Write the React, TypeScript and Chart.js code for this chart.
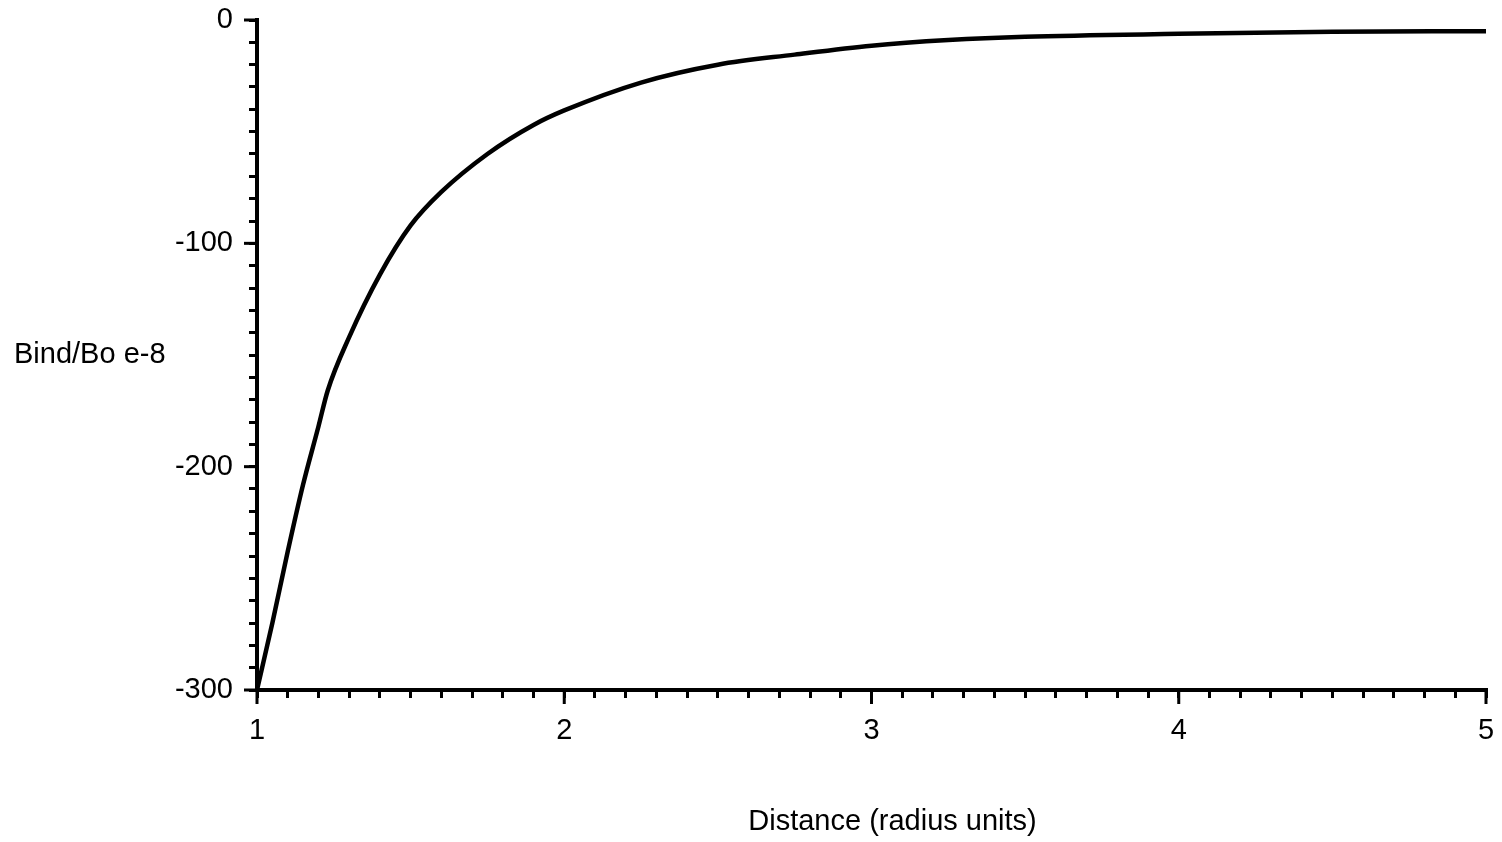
import React, { useEffect, useRef } from "react";
import { Chart, registerables } from "chart.js";

Chart.register(...registerables);

const distance = [1.0, 1.05, 1.1, 1.15, 1.2, 1.23, 1.3, 1.4, 1.5, 1.6, 1.75, 1.9, 2.0, 2.25, 2.5, 2.75, 3.0, 3.25, 3.5, 4.0, 4.5, 5.0];
const bind = [-300, -270, -238, -208, -182, -166, -142, -114, -92, -77, -60, -47, -40.5, -28, -20, -15.5, -11.5, -9, -7.5, -6.2, -5.3, -5.0];

const xMajorTicks = [1, 2, 3, 4, 5];
const yMajorTicks = [-300, -200, -100, 0];

const xTitle = "Distance (radius units)";
const yTitle = "Bind/Bo e-8";

const FONT = "'Liberation Sans', Arial, Helvetica, sans-serif";
const FONT_SIZE = 29;

const decorPlugin = {
  id: "decor",
  afterDraw(chart: any) {
    const { ctx, chartArea, scales } = chart;
    const xs = scales.x;
    const ys = scales.y;
    ctx.save();
    ctx.strokeStyle = "#000";
    ctx.lineWidth = 3;
    xMajorTicks.forEach((v) => {
      const px = xs.getPixelForValue(v);
      ctx.beginPath();
      ctx.moveTo(px, chartArea.bottom);
      ctx.lineTo(px, chartArea.bottom + 14);
      ctx.stroke();
    });
    yMajorTicks.forEach((v) => {
      const py = ys.getPixelForValue(v);
      ctx.beginPath();
      ctx.moveTo(chartArea.left, py);
      ctx.lineTo(chartArea.left - 13, py);
      ctx.stroke();
    });
    ctx.fillStyle = "#000";
    ctx.font = `${FONT_SIZE}px ${FONT}`;
    ctx.textBaseline = "middle";
    ctx.textAlign = "left";
    ctx.fillText(yTitle, 14, (chartArea.top + chartArea.bottom) / 2);
    ctx.textAlign = "center";
    ctx.fillText(xTitle, (chartArea.left + chartArea.right) / 2 + 21, chartArea.bottom + 132);
    ctx.restore();
  },
};

export default function App() {
  const ref = useRef<HTMLCanvasElement | null>(null);
  useEffect(() => {
    if (!ref.current) return;
    const isInt = (v: number, step: number) => Math.abs(v / step - Math.round(v / step)) < 1e-6;
    const chart = new Chart(ref.current, {
      type: "line",
      data: {
        datasets: [
          {
            data: distance.map((d, i) => ({ x: d, y: bind[i] })),
            borderColor: "#000",
            borderWidth: 4.5,
            pointRadius: 0,
            fill: false,
            cubicInterpolationMode: "monotone",
          },
        ],
      },
      options: {
        animation: false,
        responsive: false,
        events: [],
        layout: { padding: { top: 20, right: 16, left: 0, bottom: 0 } },
        plugins: { legend: { display: false }, tooltip: { enabled: false }, title: { display: false } },
        scales: {
          x: {
            type: "linear",
            position: "bottom",
            min: 1,
            max: 5,
            afterFit: (s: any) => {
              s.height = 152;
              s.paddingLeft = 0;
              s.paddingRight = 0;
            },
            border: { display: true, color: "#000", width: 4 },
            grid: { drawOnChartArea: false, drawTicks: true, tickLength: 8, color: "#000", lineWidth: 3 },
            ticks: {
              stepSize: 0.1,
              autoSkip: false,
              maxRotation: 0,
              padding: 16,
              color: "#000",
              font: { family: FONT, size: FONT_SIZE },
              callback: (v: any) => (isInt(Number(v), 1) ? String(Math.round(Number(v))) : ""),
            },
          },
          y: {
            type: "linear",
            position: "left",
            min: -300,
            max: 0,
            afterFit: (s: any) => {
              s.width = 257;
              s.paddingTop = 0;
              s.paddingBottom = 0;
            },
            border: { display: true, color: "#000", width: 4 },
            grid: { drawOnChartArea: false, drawTicks: true, tickLength: 8, color: "#000", lineWidth: 3 },
            ticks: {
              stepSize: 10,
              autoSkip: false,
              padding: 16,
              color: "#000",
              font: { family: FONT, size: FONT_SIZE },
              callback: (v: any) => (isInt(Number(v), 100) ? String(Math.round(Number(v))) : ""),
            },
          },
        },
      },
      plugins: [decorPlugin],
    } as any);
    return () => chart.destroy();
  }, []);
  return (
    <div style={{ position: "fixed", left: 0, top: 0, width: 1502, height: 842, background: "#fff" }}>
      <canvas ref={ref} width={1502} height={842} style={{ display: "block" }} />
    </div>
  );
}
